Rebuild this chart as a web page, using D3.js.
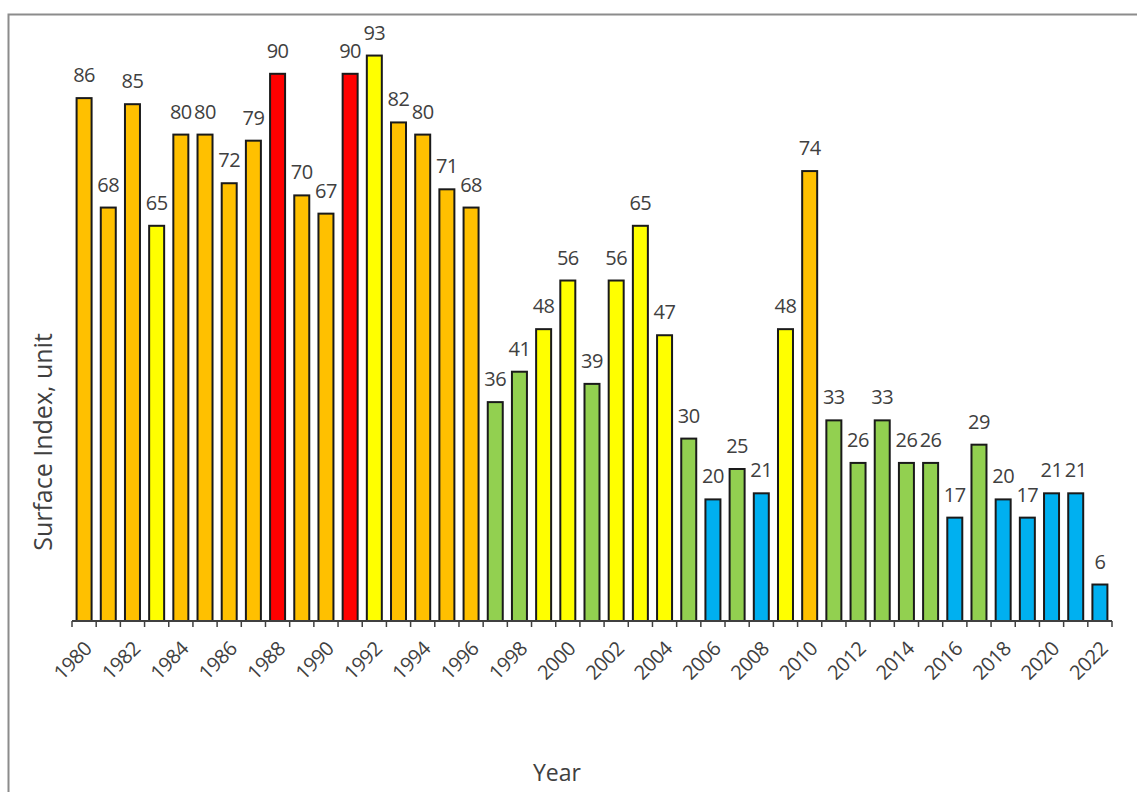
<!DOCTYPE html>
<html>
<head>
<meta charset="utf-8">
<script src="https://cdn.jsdelivr.net/npm/d3@7/dist/d3.min.js"></script>
<style>
  body { margin: 0; background: #fff; }
  text { font-family: "Open Sans", "DejaVu Sans", sans-serif; }
</style>
</head>
<body>
<div class="container"></div>
<script>
// years and surface index values
var years = d3.range(1980, 2023);
var values = [86, 68, 85, 65, 80, 80, 72, 79, 90, 70,
              67, 90, 93, 82, 80, 71, 68, 36, 41, 48,
              56, 39, 56, 65, 47, 30, 20, 25, 21, 48,
              74, 33, 26, 33, 26, 26, 17, 29, 20, 17,
              21, 21, 6];
// colour class of each bar: O orange, R red, Y yellow, G green, B blue
var classes = ["O","O","O","Y","O","O","O","O","R","O",
               "O","R","Y","O","O","O","O","G","G","Y",
               "Y","G","Y","Y","Y","G","B","G","B","Y",
               "O","G","G","G","G","G","B","G","B","B",
               "B","B","B"];
var tickYears = years.filter(function(y) { return y % 2 === 0; });

var palette = {O: "#FFC000", R: "#FF0000", Y: "#FFFF00", G: "#92D050", B: "#00B0F0"};

var width = 1137, height = 792;
var margin = {top: 13, left: 72, right: 25, bottom: 171};

var svg = d3.select(".container").append("svg")
    .attr("width", width)
    .attr("height", height);

// outer frame
svg.append("rect")
    .attr("x", 8.5).attr("y", 14.5)
    .attr("width", width + 20).attr("height", height + 20)
    .attr("fill", "none")
    .attr("stroke", "#8c8c8c")
    .attr("stroke-width", 2);

var x = d3.scaleBand()
    .domain(years)
    .range([margin.left, width - margin.right])
    .paddingInner(0.38)
    .paddingOuter(0.19);

var y = d3.scaleLinear()
    .domain([0, 100])
    .range([height - margin.bottom, margin.top]);

var data = years.map(function(yr, i) {
  return {year: yr, value: values[i], cls: classes[i]};
});

// bars
svg.selectAll(".bar")
    .data(data)
  .enter().append("rect")
    .attr("class", "bar")
    .attr("x", function(d) { return x(d.year); })
    .attr("y", function(d) { return y(d.value); })
    .attr("width", x.bandwidth())
    .attr("height", function(d) { return y(0) - y(d.value); })
    .attr("fill", function(d) { return palette[d.cls]; })
    .attr("stroke", "#1a1a1a")
    .attr("stroke-width", 2);

// value labels
svg.selectAll(".lbl")
    .data(data)
  .enter().append("text")
    .attr("class", "lbl")
    .attr("x", function(d) { return x(d.year) + x.bandwidth() / 2; })
    .attr("y", function(d) { return y(d.value) - 16; })
    .attr("text-anchor", "middle")
    .style("font-size", "20px")
    .style("letter-spacing", "-0.5px")
    .attr("fill", "#404040")
    .text(function(d) { return d.value; });

// x axis: ticks between bars
var axisY = y(0);
var step = x.step();
var edges = years.map(function(yr) { return x(yr) - (step - x.bandwidth()) / 2; });
edges.push(width - margin.right);

var axis = svg.append("g").attr("class", "axis");
axis.append("line")
    .attr("x1", margin.left).attr("x2", width - margin.right)
    .attr("y1", axisY).attr("y2", axisY)
    .attr("stroke", "#404040").attr("stroke-width", 2);
axis.selectAll(".tick")
    .data(edges)
  .enter().append("line")
    .attr("x1", function(d) { return d; })
    .attr("x2", function(d) { return d; })
    .attr("y1", axisY).attr("y2", axisY + 6)
    .attr("stroke", "#404040").attr("stroke-width", 1.5);

axis.selectAll(".tlabel")
    .data(tickYears)
  .enter().append("text")
    .attr("class", "tlabel")
    .attr("text-anchor", "end")
    .attr("transform", function(d) {
      return "translate(" + (x(d) + x.bandwidth() / 2 + 9) + "," + (axisY + 29) + ") rotate(-45)";
    })
    .style("font-size", "20px")
    .style("letter-spacing", "-0.5px")
    .attr("fill", "#404040")
    .text(function(d) { return d; });

// axis titles
svg.append("text")
    .attr("transform", "translate(52," + 442 + ") rotate(-90)")
    .attr("text-anchor", "middle")
    .style("font-size", "25px")
    .attr("fill", "#404040")
    .text("Surface Index, unit");

svg.append("text")
    .attr("x", 557).attr("y", 781)
    .attr("text-anchor", "middle")
    .style("font-size", "23px")
    .attr("fill", "#404040")
    .text("Year");
</script>
</body>
</html>
